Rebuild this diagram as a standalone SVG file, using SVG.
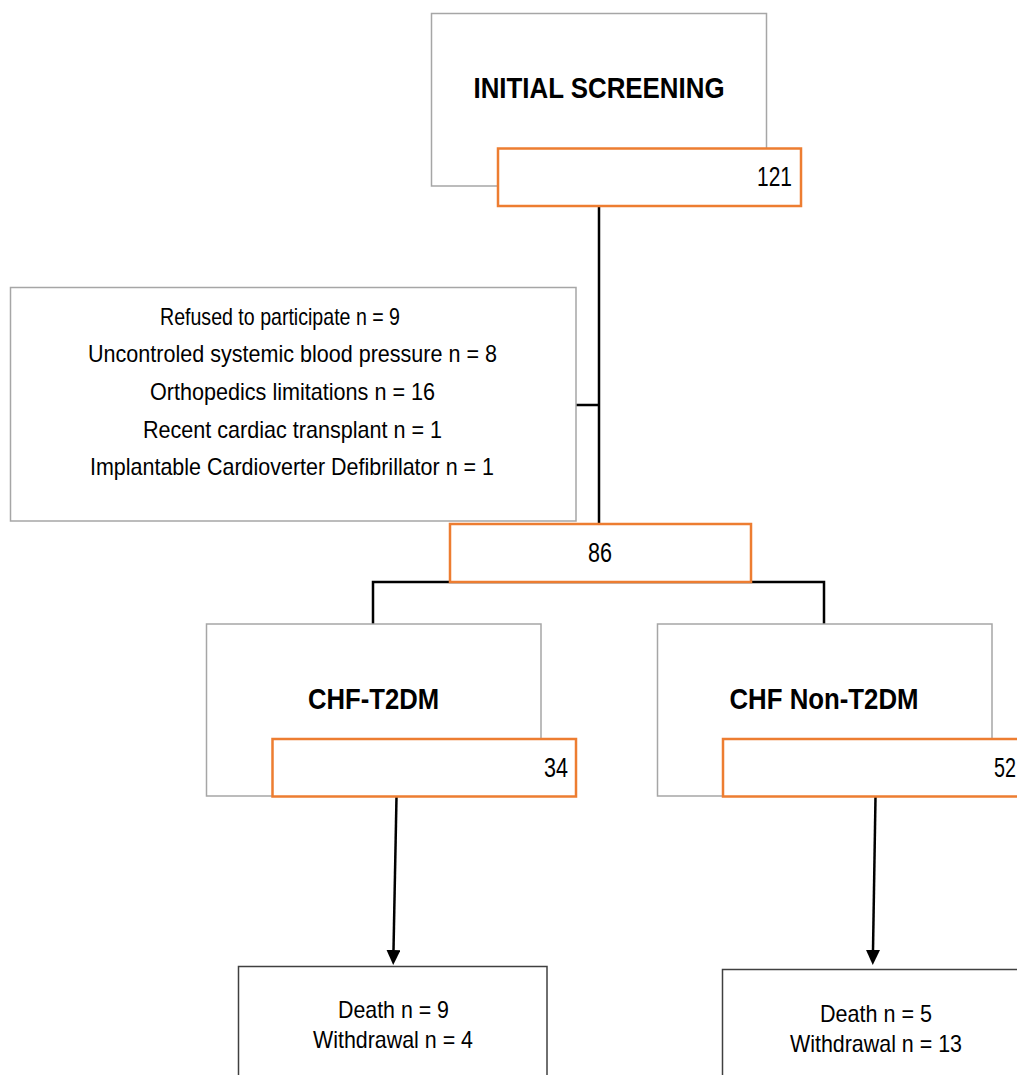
<svg xmlns="http://www.w3.org/2000/svg" width="1017" height="1075" viewBox="0 0 1017 1075">
<defs>
<marker id="arr" markerUnits="userSpaceOnUse" markerWidth="15" markerHeight="14" viewBox="0 0 15 14" refX="0" refY="7" orient="auto">
<path d="M0,0 L15,7 L0,14 z" fill="#000"/>
</marker>
</defs>
<style>
.gray{fill:#fff;stroke:#a6a6a6;stroke-width:1.5}
.org{fill:#fff;stroke:#ed7d31;stroke-width:2.5}
.dark{fill:#fff;stroke:#404040;stroke-width:1.5}
.con{fill:none;stroke:#000;stroke-width:2.5}
text{font-family:"Liberation Sans",Arial,sans-serif;fill:#000}
.t{font-size:24px}
.n{font-size:27px}
.b{font-size:30px;font-weight:bold}
</style>
<rect width="1017" height="1075" fill="#fff"/>
<g id="connectors">
<path class="con" d="M599,206 V524 M576,405 H599"/>
<path class="con" d="M373,624 V582 H824 V624"/>
<path class="con" d="M396.5,797 L393.5,950" marker-end="url(#arr)"/>
<path class="con" d="M875.5,797 L873,950" marker-end="url(#arr)"/>
</g>
<g id="initial">
<rect class="gray" x="431.5" y="13.5" width="335" height="172.5"/>
<text class="b" x="599" y="98" text-anchor="middle" textLength="251" lengthAdjust="spacingAndGlyphs">INITIAL SCREENING</text>
</g>
<g id="n121">
<rect class="org" x="498" y="148.5" width="303" height="57.5"/>
<text class="n" x="792" y="186" text-anchor="end" textLength="35" lengthAdjust="spacingAndGlyphs">121</text>
</g>
<g id="excluded">
<rect class="gray" x="10.5" y="287.5" width="565.5" height="233.5"/>
<text class="t" x="280" y="325" text-anchor="middle" textLength="240" lengthAdjust="spacingAndGlyphs">Refused to participate n = 9</text>
<text class="t" x="292.5" y="362" text-anchor="middle" textLength="409" lengthAdjust="spacingAndGlyphs">Uncontroled systemic blood pressure n = 8</text>
<text class="t" x="292.5" y="400" text-anchor="middle" textLength="285" lengthAdjust="spacingAndGlyphs">Orthopedics limitations n = 16</text>
<text class="t" x="292.5" y="438" text-anchor="middle" textLength="299" lengthAdjust="spacingAndGlyphs">Recent cardiac transplant n = 1</text>
<text class="t" x="292" y="475" text-anchor="middle" textLength="404" lengthAdjust="spacingAndGlyphs">Implantable Cardioverter Defibrillator n = 1</text>
</g>
<g id="n86">
<rect class="org" x="450" y="524" width="301" height="58"/>
<text class="n" x="600" y="562" text-anchor="middle" textLength="24" lengthAdjust="spacingAndGlyphs">86</text>
</g>
<g id="chf-t2dm">
<rect class="gray" x="206.5" y="624" width="334.5" height="172"/>
<text class="b" x="373.5" y="709" text-anchor="middle" textLength="131" lengthAdjust="spacingAndGlyphs">CHF-T2DM</text>
</g>
<g id="n34">
<rect class="org" x="272.5" y="739" width="303.5" height="57.5"/>
<text class="n" x="568" y="777" text-anchor="end" textLength="24" lengthAdjust="spacingAndGlyphs">34</text>
</g>
<g id="chf-non">
<rect class="gray" x="657.5" y="624" width="334.5" height="172"/>
<text class="b" x="824" y="709" text-anchor="middle" textLength="189" lengthAdjust="spacingAndGlyphs">CHF Non-T2DM</text>
</g>
<g id="n52">
<rect class="org" x="723" y="739" width="304" height="57.5"/>
<text class="n" x="1016" y="777" text-anchor="end" textLength="22" lengthAdjust="spacingAndGlyphs">52</text>
</g>
<g id="out-t2dm">
<rect class="dark" x="238.5" y="966.5" width="308.5" height="120"/>
<text class="t" x="393.5" y="1018" text-anchor="middle" textLength="111" lengthAdjust="spacingAndGlyphs">Death n = 9</text>
<text class="t" x="393" y="1048" text-anchor="middle" textLength="160" lengthAdjust="spacingAndGlyphs">Withdrawal n = 4</text>
</g>
<g id="out-non">
<rect class="dark" x="722.5" y="969.5" width="310" height="120"/>
<text class="t" x="876" y="1022" text-anchor="middle" textLength="112" lengthAdjust="spacingAndGlyphs">Death n = 5</text>
<text class="t" x="876" y="1052" text-anchor="middle" textLength="172" lengthAdjust="spacingAndGlyphs">Withdrawal n = 13</text>
</g>
</svg>
